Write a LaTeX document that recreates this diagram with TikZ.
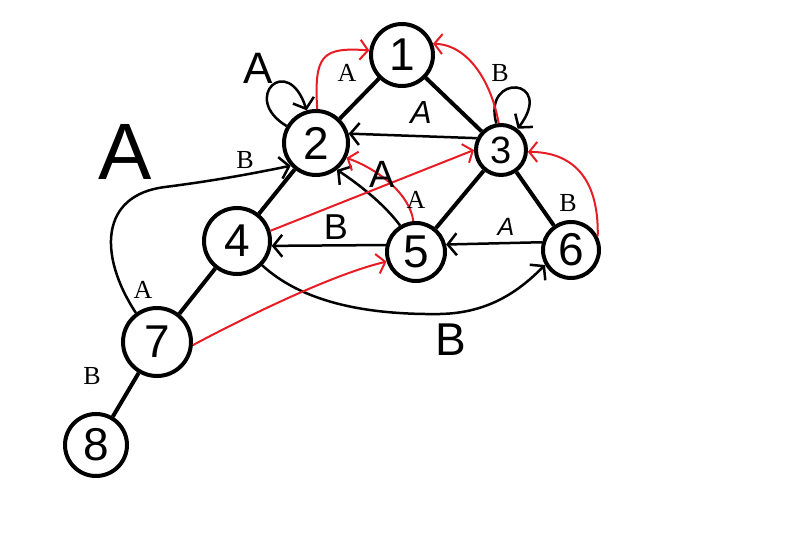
\documentclass[tikz,border=0pt]{standalone}
\usepackage{fontspec}
\setmainfont{Liberation Serif}
\newfontfamily\handfont{Liberation Sans}
\usetikzlibrary{arrows.meta}
\definecolor{pen}{RGB}{232,28,36}
\begin{document}
\begin{tikzpicture}[x=1pt,y=-1pt,
  vtx/.style={circle,draw,line width=4pt,inner sep=0pt,font=\handfont\fontsize{46}{46}\selectfont},
  tree/.style={line width=4pt},
  arr/.style={line width=2.5pt,-{Straight Barb[length=9pt,width=22pt,line width=2.5pt]}},
  rarr/.style={pen,line width=2pt,-{Straight Barb[length=8pt,width=20pt,line width=2pt]}},
  lab/.style={font=\fontsize{26}{26}\selectfont},
  hand/.style={font=\handfont\fontsize{#1}{#1}\selectfont},
  ihand/.style={font=\handfont\itshape\fontsize{#1}{#1}\selectfont}
]
\useasboundingbox[fill=white] (0,0) rectangle (798,538);
% vertices
\node[vtx,minimum size=62pt] (n1) at (402,55) {1};
\node[vtx,minimum size=64pt] (n2) at (316,143) {2};
\node[vtx,minimum size=50pt,font=\handfont\fontsize{38}{38}\selectfont] (n3) at (501,150) {3};
\node[vtx,minimum size=66pt] (n4) at (237,241) {4};
\node[vtx,minimum size=58pt] (n5) at (416,252) {5};
\node[vtx,minimum size=56pt] (n6) at (571,250) {6};
\node[vtx,minimum size=68pt] (n7) at (157,342) {7};
\node[vtx,minimum size=62pt] (n8) at (96,445) {8};
% tree edges
\draw[tree] (n1) -- (n2);
\draw[tree] (n1) -- (n3);
\draw[tree] (n2) -- (n4);
\draw[tree] (n4) -- (n7);
\draw[tree] (n7) -- (n8);
\draw[tree] (n3) -- (n5);
\draw[tree] (n3) -- (n6);
% black arrows
\draw[arr] (n3.154) -- (n2.16);
\draw[arr] (n2.150) .. controls (240,98) and (288,52) .. (n2.106);
\draw[arr] (n3.100) .. controls (482,72) and (556,78) .. (n3.52);
\draw[arr] (n7.126) .. controls (98,255) and (100,195) .. (165,187) .. controls (220,180) and (260,172) .. (n2.222);
\draw[arr] (n5.121) .. controls (385,205) and (360,185) .. (n2.-52);
\draw[arr] (n5.167) -- (n4.-8);
\draw[arr] (n6.165) -- (n5.14);
\draw[arr] (n4.-44) .. controls (300,300) and (360,315) .. (440,314) .. controls (490,313) and (520,290) .. (n6.210);
% red arrows
\draw[rarr] (n2.88) .. controls (314,55) and (322,47) .. (n1.172);
\draw[rarr] (n3.95) .. controls (492,85) and (470,45) .. (n1.20);
\draw[rarr] (n4.17) -- (n3.180);
\draw[rarr] (n5.95) .. controls (410,195) and (380,170) .. (n2.-26);
\draw[rarr] (n6.27) .. controls (599,175) and (570,152) .. (n3.-4);
\draw[rarr] (n7.-5) .. controls (240,320) and (330,275) .. (n5.198);
% printed labels
\node[lab] (l1) at (347,73) {A};
\node[lab] (l2) at (500,73) {B};
\node[lab] (l3) at (245,160) {B};
\node[lab] (l4) at (416,200) {A};
\node[lab] (l5) at (568,203) {B};
\node[lab] (l6) at (143,290) {A};
\node[lab] (l7) at (92,376) {B};
% hand-written labels
\node[hand=80] (h1) at (125,152) {A};
\node[hand=44] (h2) at (258,68) {A};
\node[ihand=32] (h3) at (421,112) {A};
\node[hand=38] (h4) at (382,174) {A};
\node[hand=36] (h5) at (336,227) {B};
\node[ihand=25] (h6) at (506,227) {A};
\node[hand=46] (h7) at (451,340) {B};
\end{tikzpicture}
\end{document}
